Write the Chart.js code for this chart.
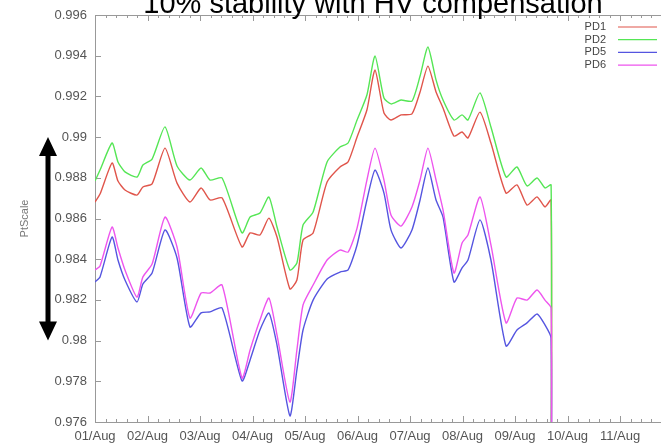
<!DOCTYPE html>
<html>
<head>
<meta charset="utf-8">
<title>PtScale stability</title>
<script src="https://cdn.jsdelivr.net/npm/chart.js@4.4.0/dist/chart.umd.min.js"></script>
<style>
  html, body {
    margin: 0;
    padding: 0;
    width: 661px;
    height: 443px;
    overflow: hidden;
    background: #fff;
  }
  #chart {
    position: absolute;
    left: 0;
    top: -24px;
  }
</style>
</head>
<body>
<canvas id="chart" width="720" height="468"></canvas>
<script>
// hours since 01/Aug 00:00; the last entry is where logging stopped
const hours = [0, 2.3, 7.8, 10.5, 13.7, 19.2, 21.9, 26.1, 32.0, 37.5,
  43.4, 48.5, 52.6, 58.1, 67.2, 70.9, 75.4, 79.5, 83.2, 89.1,
  92.3, 95.1, 99.7, 106.1, 112.0, 115.7, 119.8, 124.3, 128.0, 132.1,
  135.3, 139.9, 144.9, 148.6, 152.2, 155.9, 159.1, 164.1, 167.8, 170.5,
  176.0, 181.0, 187.9, 192.9, 197.5, 202.1, 205.7, 208.5, 208.5];

const pd1 = [0.98681, 0.98720, 0.98873, 0.98784, 0.98740, 0.98715, 0.98755, 0.98770, 0.98946, 0.98774,
  0.98681, 0.98750, 0.98691, 0.98701, 0.98460, 0.98529, 0.98519, 0.98602, 0.98509, 0.98254,
  0.98298, 0.98494, 0.98529, 0.98779, 0.98853, 0.98878, 0.99000, 0.99133, 0.99330, 0.99118,
  0.99084, 0.99109, 0.99114, 0.99222, 0.99349, 0.99222, 0.99143, 0.99005, 0.99025, 0.98996,
  0.99123, 0.98971, 0.98725, 0.98765, 0.98666, 0.98706, 0.98657, 0.98691, 0.970];

const pd2 = [0.98784, 0.98838, 0.98971, 0.98878, 0.98829, 0.98804, 0.98863, 0.98892, 0.99050, 0.98858,
  0.98789, 0.98848, 0.98789, 0.98799, 0.98529, 0.98607, 0.98627, 0.98706, 0.98558, 0.98347,
  0.98381, 0.98568, 0.98632, 0.98878, 0.98951, 0.98971, 0.99084, 0.99207, 0.99399, 0.99192,
  0.99163, 0.99182, 0.99177, 0.99300, 0.99443, 0.99281, 0.99182, 0.99084, 0.99109, 0.99084,
  0.99217, 0.99050, 0.98804, 0.98853, 0.98760, 0.98799, 0.98750, 0.98765, 0.970];

const pd5 = [0.98288, 0.98313, 0.98509, 0.98396, 0.98298, 0.98190, 0.98278, 0.98332, 0.98544, 0.98406,
  0.98067, 0.98136, 0.98141, 0.98160, 0.97802, 0.97905, 0.98052, 0.98136, 0.97978, 0.97630,
  0.97856, 0.98052, 0.98199, 0.98303, 0.98337, 0.98347, 0.98470, 0.98691, 0.98838, 0.98725,
  0.98544, 0.98455, 0.98544, 0.98691, 0.98848, 0.98691, 0.98607, 0.98288, 0.98357, 0.98396,
  0.98593, 0.98396, 0.97973, 0.98052, 0.98087, 0.98131, 0.98077, 0.98013, 0.970];

const pd6 = [0.98347, 0.98367, 0.98558, 0.98455, 0.98347, 0.98214, 0.98313, 0.98376, 0.98607, 0.98460,
  0.98111, 0.98234, 0.98234, 0.98273, 0.97816, 0.97954, 0.98101, 0.98209, 0.98028, 0.97698,
  0.97954, 0.98175, 0.98273, 0.98396, 0.98445, 0.98435, 0.98553, 0.98789, 0.98946, 0.98789,
  0.98617, 0.98563, 0.98657, 0.98789, 0.98946, 0.98789, 0.98642, 0.98332, 0.98480, 0.98519,
  0.98706, 0.98470, 0.98087, 0.98209, 0.98199, 0.98249, 0.98199, 0.98160, 0.970];

const seriesNames = ['PD1', 'PD2', 'PD5', 'PD6'];
const seriesColors = ['#e0554b', '#55e655', '#5555e0', '#ee55ee'];

const dayHours = [0, 24, 48, 72, 96, 120, 144, 168, 192, 216, 240];
const dayLabels = ['01/Aug', '02/Aug', '03/Aug', '04/Aug', '05/Aug', '06/Aug',
  '07/Aug', '08/Aug', '09/Aug', '10/Aug', '11/Aug'];
const yTicks = [0.976, 0.978, 0.98, 0.982, 0.984, 0.986, 0.988, 0.99, 0.992, 0.994, 0.996];

// the 1% band marked by the double arrow
const arrowSpan = [0.98, 0.99];

const titleText = '10% stability with HV compensation';
const FONT = "'Liberation Sans', Arial, sans-serif";

const allSeries = [pd1, pd2, pd5, pd6];

// gnuplot-style frame with inward ticks on every side
const framePlugin = {
  id: 'frame',
  beforeDatasetsDraw(chart) {
    const { ctx, chartArea: a, scales: { x, y } } = chart;
    ctx.save();
    ctx.strokeStyle = '#999';
    ctx.lineWidth = 1;
    ctx.strokeRect(Math.round(a.left) + 0.5, Math.round(a.top) + 0.5,
      Math.round(a.width), Math.round(a.height));
    ctx.beginPath();
    for (let i = 0; i * 4.8 <= x.max + 0.01; i++) {
      const px = Math.round(x.getPixelForValue(i * 4.8)) + 0.5;
      const len = i % 5 === 0 ? 6 : 3;
      ctx.moveTo(px, a.bottom);
      ctx.lineTo(px, a.bottom - len);
      ctx.moveTo(px, a.top);
      ctx.lineTo(px, a.top + len);
    }
    yTicks.forEach(v => {
      const py = Math.round(y.getPixelForValue(v)) + 0.5;
      ctx.moveTo(a.left, py);
      ctx.lineTo(a.left + 6, py);
      ctx.moveTo(a.right, py);
      ctx.lineTo(a.right - 6, py);
    });
    ctx.stroke();
    ctx.restore();
  }
};

// title, key and the double-headed arrow
const decorPlugin = {
  id: 'decor',
  afterDraw(chart) {
    const { ctx, chartArea: a, scales: { y } } = chart;
    ctx.save();

    ctx.fillStyle = '#000';
    ctx.font = '29px ' + FONT;
    ctx.textAlign = 'center';
    ctx.textBaseline = 'alphabetic';
    ctx.fillText(titleText, 373, a.top - 2);

    ctx.font = '11px ' + FONT;
    ctx.textAlign = 'right';
    ctx.textBaseline = 'middle';
    seriesNames.forEach((name, i) => {
      const ry = a.top + 12 + i * 12.7;
      ctx.fillStyle = '#444';
      ctx.fillText(name, 606, ry);
      ctx.strokeStyle = seriesColors[i];
      ctx.lineWidth = 1.2;
      ctx.beginPath();
      ctx.moveTo(618, ry);
      ctx.lineTo(657, ry);
      ctx.stroke();
    });

    const ax = 48;
    const yTop = y.getPixelForValue(arrowSpan[1]);
    const yBot = y.getPixelForValue(arrowSpan[0]);
    const headH = 19, headW = 9;
    ctx.fillStyle = '#000';
    ctx.fillRect(ax - 2.5, yTop + headH - 1, 5, yBot - yTop - 2 * headH + 2);
    ctx.beginPath();
    ctx.moveTo(ax, yTop);
    ctx.lineTo(ax + headW, yTop + headH);
    ctx.lineTo(ax - headW, yTop + headH);
    ctx.closePath();
    ctx.moveTo(ax, yBot);
    ctx.lineTo(ax + headW, yBot - headH);
    ctx.lineTo(ax - headW, yBot - headH);
    ctx.closePath();
    ctx.fill();
    ctx.restore();
  }
};

const datasets = allSeries.map((vals, s) => ({
  label: seriesNames[s],
  data: hours.map((h, i) => ({ x: h, y: vals[i] })),
  borderColor: seriesColors[s],
  borderWidth: 1.4,
  pointRadius: 0,
  tension: 0.2,
  order: 3 - s
}));

new Chart(document.getElementById('chart'), {
  type: 'line',
  data: { datasets },
  options: {
    responsive: false,
    animation: false,
    events: [],
    layout: { padding: { top: 39, right: 47.5, left: 0, bottom: 0 } },
    plugins: {
      legend: { display: false },
      tooltip: { enabled: false }
    },
    scales: {
      x: {
        type: 'linear',
        min: 0,
        max: 264,
        grid: { display: false, drawTicks: false },
        border: { display: false },
        afterBuildTicks: s => { s.ticks = dayHours.map(v => ({ value: v })); },
        afterFit: s => { s.height = 22; },
        ticks: {
          autoSkip: false,
          maxRotation: 0,
          padding: 7,
          color: '#555',
          font: { family: FONT, size: 13 },
          callback: (v, i) => dayLabels[i]
        }
      },
      y: {
        min: 0.976,
        max: 0.996,
        grid: { display: false, drawTicks: false },
        border: { display: false },
        afterBuildTicks: s => { s.ticks = yTicks.map(v => ({ value: v })); },
        afterFit: s => { s.width = 95; },
        title: {
          display: true,
          text: 'PtScale',
          color: '#777',
          font: { family: FONT, size: 11 },
          padding: { top: 18, bottom: 0 }
        },
        ticks: {
          autoSkip: false,
          padding: 8,
          color: '#555',
          font: { family: FONT, size: 13 },
          callback: v => String(parseFloat(v.toFixed(3)))
        }
      }
    }
  },
  plugins: [framePlugin, decorPlugin]
});
</script>
</body>
</html>
